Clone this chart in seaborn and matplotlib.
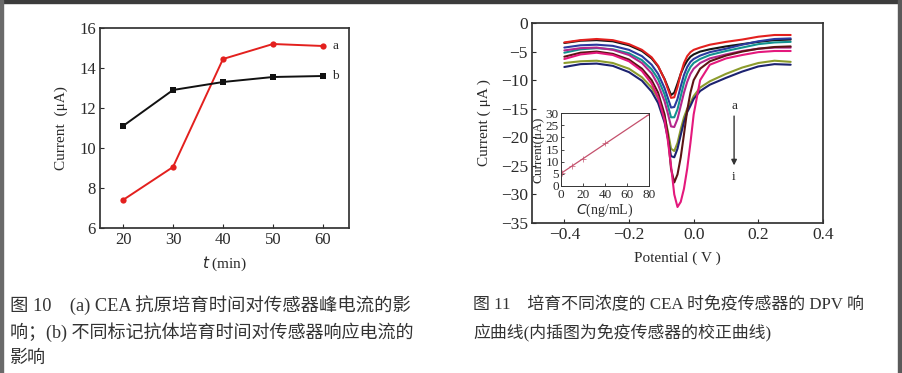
"""Two-panel electrochemistry figure: incubation time vs current, and DPV curves with calibration inset."""
import matplotlib
matplotlib.use("Agg")
import matplotlib.pyplot as plt
from matplotlib.patches import Rectangle
import pandas as pd
import seaborn as sns

# -------------------- data --------------------

incubation_time = [20, 30, 40, 50, 60]
current_a = [7.4, 9.05, 14.45, 15.2, 15.1]
current_b = [11.1, 12.9, 13.3, 13.55, 13.6]

potential = [-0.40, -0.35, -0.30, -0.25, -0.20, -0.16, -0.13, -0.11, -0.09, -0.08,
             -0.07, -0.06, -0.05, -0.04, -0.03, -0.02, -0.01, 0.00, 0.02, 0.05,
             0.10, 0.15, 0.20, 0.25, 0.30]
dpv_a = [-3.5, -3.1, -3.0, -3.2, -3.9, -4.9, -6.2, -7.6, -9.8, -11.2,
         -12.6, -12.2, -10.6, -8.9, -7.6, -6.6, -5.9, -5.5, -5.0, -4.6,
         -4.1, -3.7, -3.3, -3.0, -2.9]
dpv_b = [-3.4, -3.0, -2.8, -3.0, -3.7, -4.7, -6.0, -7.5, -9.9, -11.5,
         -13.1, -13.0, -11.2, -8.9, -7.0, -5.8, -5.1, -4.7, -4.3, -3.8,
         -3.3, -2.9, -2.4, -2.1, -2.1]
dpv_c = [-4.3, -3.9, -3.8, -4.0, -4.7, -5.8, -7.3, -8.9, -11.4, -13.1,
         -14.8, -14.7, -13.3, -11.1, -9.1, -7.7, -6.8, -6.3, -5.7, -5.1,
         -4.5, -3.8, -3.2, -2.8, -2.7]
dpv_d = [-5.2, -4.6, -4.4, -4.6, -5.3, -6.5, -8.1, -9.8, -12.5, -14.4,
         -16.5, -16.5, -15.1, -12.8, -10.5, -8.8, -7.7, -7.0, -6.3, -5.6,
         -4.9, -4.3, -3.7, -3.4, -3.3]
dpv_e = [-4.8, -4.4, -4.3, -4.7, -5.6, -7.0, -8.8, -10.8, -13.7, -15.8,
         -18.1, -18.2, -16.8, -14.5, -12.2, -10.3, -8.9, -8.0, -7.0, -6.2,
         -5.5, -4.9, -4.5, -4.3, -4.3]
dpv_f = [-7.0, -6.7, -6.6, -7.0, -8.0, -9.5, -11.3, -13.2, -16.4, -18.9,
         -22.0, -22.4, -21.0, -18.6, -16.5, -15.0, -14.0, -12.8, -11.3, -10.2,
         -8.9, -7.8, -7.0, -6.6, -6.8]
dpv_g = [-7.7, -7.2, -7.1, -7.5, -8.6, -10.1, -12.0, -14.0, -17.4, -20.1,
         -23.3, -23.5, -22.0, -19.6, -17.3, -15.6, -14.5, -13.3, -11.9, -10.8,
         -9.6, -8.5, -7.6, -7.2, -7.3]
dpv_h = [-5.9, -5.2, -5.0, -5.4, -6.4, -8.0, -10.0, -12.2, -16.0, -19.5,
         -25.5, -27.9, -26.5, -23.5, -19.5, -15.3, -12.2, -10.0, -8.0, -6.7,
         -5.7, -5.0, -4.5, -4.2, -4.1]
dpv_i = [-6.3, -5.5, -5.2, -5.6, -6.7, -8.4, -10.6, -13.0, -17.0, -20.5,
         -25.0, -30.0, -32.2, -31.3, -29.0, -25.5, -21.0, -16.0, -10.0, -7.3,
         -6.2, -5.6, -5.1, -4.9, -4.9]
dpv_labels = ["a", "b", "c", "d", "e", "f", "g", "h", "i"]
dpv_colors = ["#151515", "#e3201e", "#2b3a9e", "#12928f", "#b4268c",
              "#8c9c2c", "#1c2270", "#5c1414", "#e4187c"]

conc = [1, 10, 20, 40, 80]
calib_current = [5.2, 8.3, 11.3, 17.6, 29.2]

# -------------------- style --------------------

sns.set_theme(style="ticks")
plt.rcParams["font.family"] = ["Liberation Serif", "Noto Sans CJK SC"]
plt.rcParams["axes.unicode_minus"] = True
TEXT = "#2a2a2a"
for key in ["text.color", "axes.labelcolor", "xtick.color", "ytick.color"]:
    plt.rcParams[key] = TEXT
plt.rcParams["axes.edgecolor"] = "#333333"
plt.rcParams["xtick.direction"] = "in"
plt.rcParams["ytick.direction"] = "in"

fig = plt.figure(figsize=(9.02, 3.73), dpi=100)
W, H = 902, 373


def px_axes(x0, y0, x1, y1):
    return fig.add_axes([x0 / W, 1 - y1 / H, (x1 - x0) / W, (y1 - y0) / H])


# -------------------- left panel --------------------

ax1 = px_axes(100, 28, 349, 228)
time_df = pd.DataFrame({
    "t": incubation_time * 2,
    "current": current_a + current_b,
    "series": ["a"] * len(current_a) + ["b"] * len(current_b),
})
sns.lineplot(data=time_df, x="t", y="current", hue="series", style="series",
             palette={"a": "#e3201e", "b": "#111111"},
             markers={"a": "o", "b": "s"}, dashes=False, markersize=4.5,
             markeredgewidth=0, linewidth=1.4, legend=False, ax=ax1)
ax1.set_xlim(15.4, 65.2)
ax1.set_ylim(6, 16)
ax1.set_xticks([20, 30, 40, 50, 60])
ax1.set_yticks([6, 8, 10, 12, 14, 16])
ax1.tick_params(labelsize=12, length=3, width=0.8, pad=3)
ax1.set_xlabel("$t$ (min)", fontsize=11, labelpad=5)
ax1.set_ylabel("Current  (μA)", fontsize=11, labelpad=8)
ax1.text(61.8, current_a[-1], "a", fontsize=9.5, va="center")
ax1.text(61.8, current_b[-1], "b", fontsize=9.5, va="center")

# -------------------- right panel --------------------

ax2 = px_axes(532, 23, 823, 223)
dpv_values = [dpv_a, dpv_b, dpv_c, dpv_d, dpv_e, dpv_f, dpv_g, dpv_h, dpv_i]
dpv_df = pd.concat([
    pd.DataFrame({"potential": potential, "current": vals, "curve": lab})
    for lab, vals in zip(dpv_labels, dpv_values)
])
sns.lineplot(data=dpv_df, x="potential", y="current", hue="curve",
             palette=dict(zip(dpv_labels, dpv_colors)), sort=False,
             linewidth=1.5, legend=False, ax=ax2)
ax2.set_xlim(-0.5, 0.395)
ax2.set_ylim(-35, 0)
ax2.set_xticks([-0.4, -0.2, 0.0, 0.2, 0.4])
ax2.set_xticklabels(["−0.4", "−0.2", "0.0", "0.2", "0.4"])
ax2.set_yticks([0, -5, -10, -15, -20, -25, -30, -35])
ax2.tick_params(labelsize=12.5, length=3, width=0.8, pad=3)
ax2.set_xlabel("Potential ( V )", fontsize=11, labelpad=6)
ax2.set_ylabel("Current ( μA )", fontsize=11, labelpad=7)
ax2.annotate("", xy=(0.125, -25.4), xytext=(0.125, -15.8),
             arrowprops=dict(arrowstyle="-|>", color="#333333", lw=1.0,
                             mutation_scale=8))
ax2.text(0.125, -14.6, "a", fontsize=9.5, ha="center", va="center")
ax2.text(0.125, -27.0, "i", fontsize=9.5, ha="center", va="center")

# inset: calibration curve
ax3 = px_axes(561, 113, 649, 186)
sns.regplot(x=conc, y=calib_current, ci=None, marker="+", color="#c4506c",
            scatter_kws={"s": 14, "linewidths": 0.6},
            line_kws={"linewidth": 0.9}, ax=ax3)
ax3.set_xlim(0, 80)
ax3.set_ylim(0, 30)
ax3.set_xticks([0, 20, 40, 60, 80])
ax3.set_yticks([0, 5, 10, 15, 20, 25, 30])
ax3.tick_params(labelsize=9.5, length=2, width=0.6)
ax3.tick_params(axis="x", pad=2.5)
ax3.tick_params(axis="y", pad=1.5)
for s in ax3.spines.values():
    s.set_linewidth(0.7)
ax3.set_xlabel("$C$(ng/mL)", fontsize=10, labelpad=0)
ax3.set_ylabel("Current(μA)", fontsize=9.5, labelpad=1)

# -------------------- captions and frame --------------------

cap = dict(color="#333333", va="center", ha="left",
           family=["Liberation Serif", "Noto Sans CJK SC"])
fig.text(10 / W, 1 - 305 / H, "图 10　(a) CEA 抗原培育时间对传感器峰电流的影", fontsize=13.2, **cap)
fig.text(10 / W, 1 - 332 / H, "响；(b) 不同标记抗体培育时间对传感器响应电流的", fontsize=13, **cap)
fig.text(10 / W, 1 - 358 / H, "影响", fontsize=13, **cap)
fig.text(473 / W, 1 - 305 / H, "图 11　培育不同浓度的 CEA 时免疫传感器的 DPV 响", fontsize=12.2, **cap)
fig.text(473 / W, 1 - 332 / H, "应曲线(内插图为免疫传感器的校正曲线)", fontsize=12.2, **cap)

for x0, y0, w, h, c in [(0, 0, W, 3, "#3c3c3c"), (0, 0, 3, H, "#6a6a6a"),
                        (898, 0, 4, H, "#5a5a5a")]:
    fig.patches.append(Rectangle((x0 / W, 1 - (y0 + h) / H), w / W, h / H,
                                 transform=fig.transFigure, color=c, zorder=10))

fig.savefig("out.png", dpi=100)
